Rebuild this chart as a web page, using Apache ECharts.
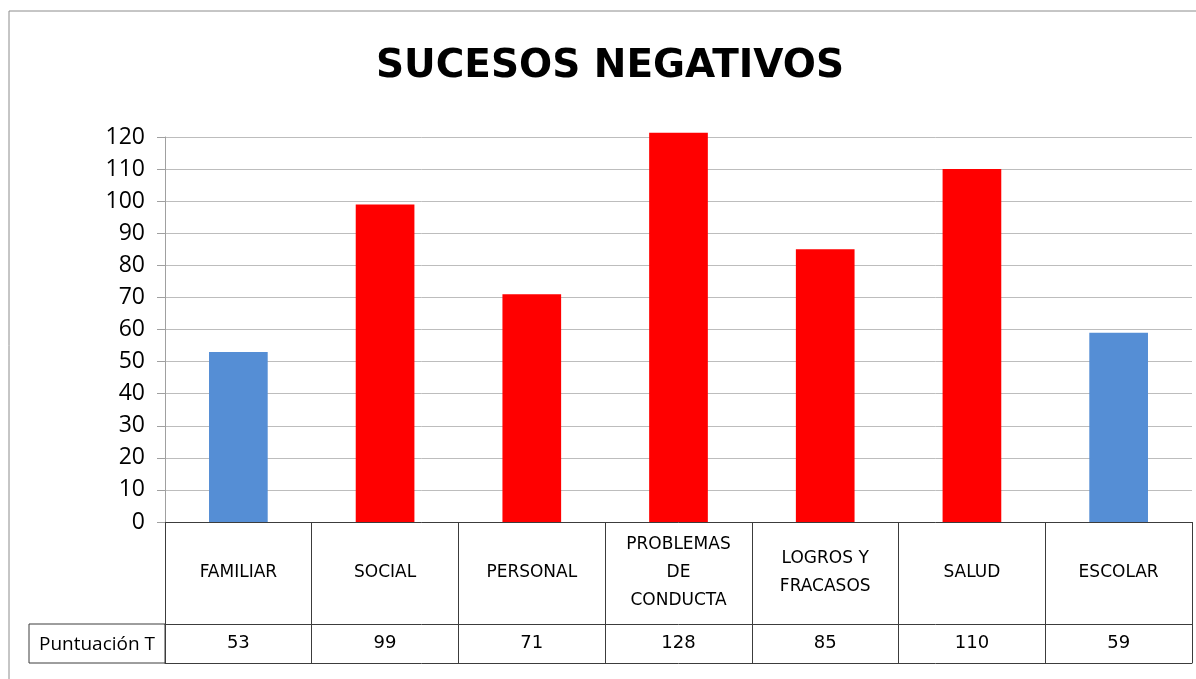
<!DOCTYPE html>
<html>
<head>
<meta charset="utf-8">
<script src="https://cdn.jsdelivr.net/npm/echarts@6/dist/echarts.min.js"></script>
<style>
  html, body { margin: 0; padding: 0; background: #fff; }
  #chart { width: 1196px; height: 679px; }
</style>
</head>
<body>
<div id="chart"></div>
<script>
// data
const categories = ['FAMILIAR', 'SOCIAL', 'PERSONAL', 'PROBLEMAS\nDE\nCONDUCTA', 'LOGROS Y\nFRACASOS', 'SALUD', 'ESCOLAR'];
const scores = [53, 99, 71, 128, 85, 110, 59];
const barColors = ['#558ED5', '#FF0000', '#FF0000', '#FF0000', '#FF0000', '#FF0000', '#558ED5'];
const rowLabel = 'Puntuación T';
const yMin = 0;
const yMax = 120;
const yStep = 10;
const barCap = 121.3; // bars above the axis max are cut just above the top line

// layout
const gridLeft = 165;
const gridTop = 137;
const gridRight = 4;
const gridBottom = 157;
const axisY = 679 - gridBottom;
const row1H = 102;
const row2H = 39;
const tableLeft = 29;
const lineColor = '#3c3c3c';

const chart = echarts.init(document.getElementById('chart'));
chart.setOption({
  animation: false,
  backgroundColor: '#fff',
  title: {
    text: 'SUCESOS NEGATIVOS',
    left: 605,
    textAlign: 'center',
    top: 42,
    textStyle: {
      fontFamily: 'DejaVu Sans',
      fontWeight: 'bold',
      fontSize: 39,
      color: '#000'
    }
  },
  grid: {
    left: gridLeft,
    right: gridRight,
    top: gridTop,
    bottom: gridBottom
  },
  xAxis: [
    {
      type: 'category',
      position: 'bottom',
      data: categories,
      axisLine: { show: true, lineStyle: { color: lineColor, width: 1 } },
      axisTick: { show: true, length: row1H + row2H, lineStyle: { color: lineColor } },
      axisLabel: {
        interval: 0,
        margin: row1H / 2,
        verticalAlign: 'middle',
        lineHeight: 28,
        fontFamily: 'DejaVu Sans',
        fontSize: 17,
        color: '#000'
      },
      splitLine: { show: false }
    },
    {
      type: 'category',
      position: 'bottom',
      offset: row1H,
      data: scores.map(String),
      axisLine: { show: true, lineStyle: { color: lineColor, width: 1 } },
      axisTick: { show: false },
      axisLabel: {
        interval: 0,
        margin: row2H / 2,
        verticalAlign: 'middle',
        fontFamily: 'DejaVu Sans',
        fontSize: 18,
        color: '#000'
      }
    },
    {
      type: 'category',
      position: 'bottom',
      offset: row1H + row2H,
      data: categories,
      axisLine: { show: true, lineStyle: { color: lineColor, width: 1 } },
      axisTick: { show: false },
      axisLabel: { show: false }
    }
  ],
  yAxis: {
    type: 'value',
    min: yMin,
    max: yMax,
    interval: yStep,
    axisLine: { show: true, lineStyle: { color: '#a0a0a0' } },
    axisTick: { show: true, length: 8, lineStyle: { color: '#a0a0a0' } },
    axisLabel: {
      margin: 20,
      fontFamily: 'Open Sans',
      fontSize: 23,
      color: '#000'
    },
    splitLine: { show: true, lineStyle: { color: '#bdbdbd', width: 1 } }
  },
  series: [
    {
      type: 'bar',
      xAxisIndex: 0,
      barWidth: '40%',
      clip: false,
      data: scores.map(function (v, i) {
        return { value: Math.min(v, barCap), itemStyle: { color: barColors[i] } };
      })
    }
  ],
  graphic: [
    {
      // chart area border
      type: 'rect',
      silent: true,
      shape: { x: 9, y: 11, width: 1300, height: 800 },
      style: { fill: 'none', stroke: '#8c8c8c', lineWidth: 1 }
    },
    {
      // row header cell of the data table
      type: 'rect',
      silent: true,
      shape: { x: tableLeft, y: axisY + row1H, width: gridLeft - tableLeft, height: row2H },
      style: { fill: 'none', stroke: lineColor, lineWidth: 1 }
    },
    {
      type: 'text',
      silent: true,
      x: (tableLeft + gridLeft) / 2,
      y: axisY + row1H + row2H / 2 + 1,
      style: {
        text: rowLabel,
        align: 'center',
        verticalAlign: 'middle',
        fontFamily: 'Open Sans',
        fontSize: 19,
        fill: '#000'
      }
    }
  ]
});
</script>
</body>
</html>
